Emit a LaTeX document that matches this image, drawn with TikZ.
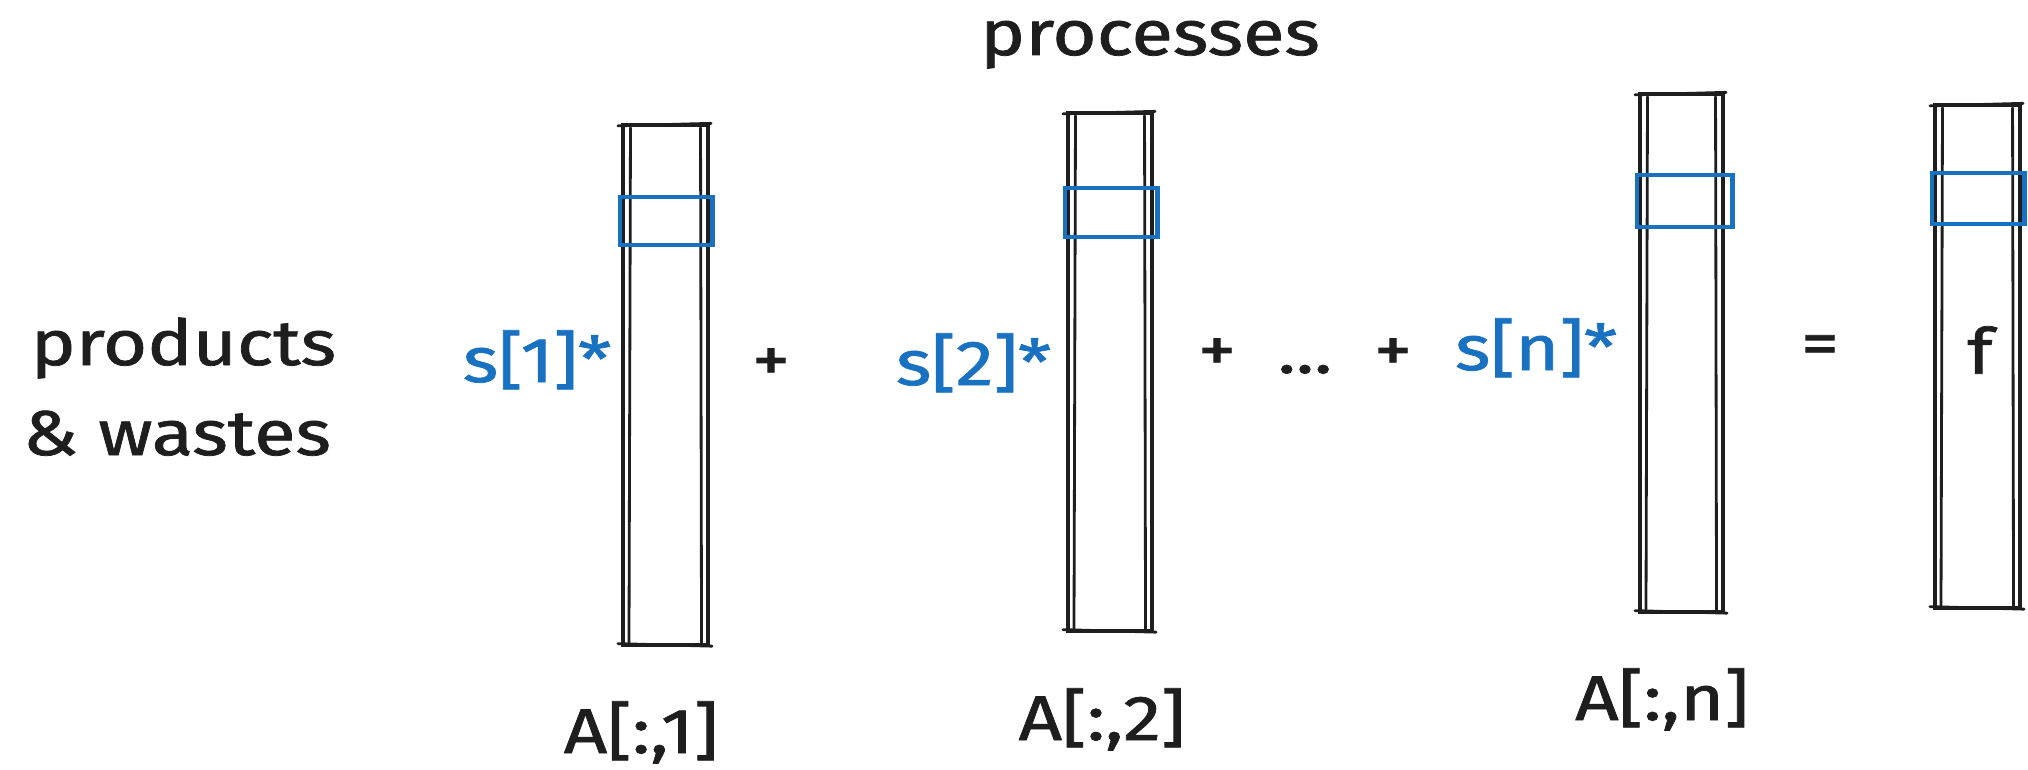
\documentclass[tikz,border=0pt]{standalone}
\usepackage{fontspec}
\setmainfont{Fira Sans}[FakeStretch=1.2, FakeBold=1.2]
\definecolor{skblue}{HTML}{1971C2}
\definecolor{ink}{HTML}{1E1E1E}
\newcommand\sketchcol[1]{%
  \draw[sk] ([xshift=0.075cm,yshift=-0.03cm]#1.north west) -- ([xshift=0.06cm,yshift=0.02cm]#1.south west);
  \draw[sk] ([xshift=-0.075cm,yshift=-0.03cm]#1.north east) -- ([xshift=-0.065cm,yshift=0.02cm]#1.south east);
  \draw[sk] ([xshift=-0.05cm,yshift=-0.01cm]#1.north west) -- ([xshift=0.03cm,yshift=0.015cm]#1.north east);
  \draw[sk] ([xshift=-0.05cm,yshift=0.015cm]#1.south west) -- ([xshift=0.04cm,yshift=-0.01cm]#1.south east);
}
\begin{document}
\begin{tikzpicture}[x=0.01cm,y=-0.01cm,
  col/.style={draw=ink, line width=1.0pt, inner sep=0pt, outer sep=0pt, rectangle},
  sk/.style={draw=ink, line width=0.8pt, line cap=round},
  blu/.style={draw=skblue, line width=1.4pt, inner sep=0pt, outer sep=0pt, rectangle},
  lbl/.style={font=\fontsize{18}{22}\selectfont, inner sep=0pt, text=ink},
  slbl/.style={lbl, text=skblue}]
\useasboundingbox (0,0) rectangle (2028,770);

% columns
\node[col, minimum width=0.85cm, minimum height=5.20cm] (c1) at (665.5,385) {};
\node[col, minimum width=0.84cm, minimum height=5.18cm] (c2) at (1110,372) {};
\node[col, minimum width=0.83cm, minimum height=5.18cm] (cn) at (1681.5,353) {};
\node[col, minimum width=0.85cm, minimum height=5.03cm] (cf) at (1977.5,356.5) {};
\sketchcol{c1}
\sketchcol{c2}
\sketchcol{cn}
\sketchcol{cf}

% highlighted rows
\node[blu, minimum width=0.92cm, minimum height=0.48cm] (b1) at (666,221) {};
\node[blu, minimum width=0.92cm, minimum height=0.49cm] (b2) at (1111,212.5) {};
\node[blu, minimum width=0.95cm, minimum height=0.52cm] (bn) at (1684.5,201) {};
\node[blu, minimum width=0.92cm, minimum height=0.51cm] (bf) at (1978,198.5) {};

% texts
\node[lbl, anchor=base] (title) at (1150,55) {processes};
\node[lbl, anchor=base west] (pw1) at (30,365) {products};
\node[lbl, anchor=base west] (pw2) at (22,455) {\& wastes};

\node[slbl, anchor=base east] (s1) at (612,382) {s[1]*};
\node[lbl] (p1) at (771,365) {+};
\node[slbl, anchor=base east] (s2) at (1052,385) {s[2]*};
\node[lbl] (p2) at (1217,355) {+};
\node[lbl, anchor=base] (dots) at (1305,373) {...};
\node[lbl] (p3) at (1393,355) {+};
\node[slbl, anchor=base east] (sn) at (1618,370) {s[n]*};
\node[lbl] (eq) at (1820,350) {=};
\node[lbl] (fl) at (1980,350) {f};

\node[lbl, anchor=base] (a1) at (641,753) {A[:,1]};
\node[lbl, anchor=base] (a2) at (1102,740) {A[:,2]};
\node[lbl, anchor=base] (an) at (1662,720) {A[:,n]};
\end{tikzpicture}
\end{document}
